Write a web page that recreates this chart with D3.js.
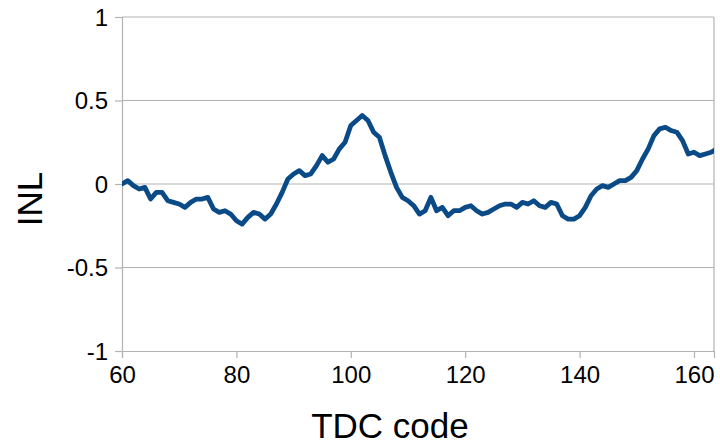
<!DOCTYPE html>
<html>
<head>
<meta charset="utf-8">
<script src="https://cdn.jsdelivr.net/npm/d3@7"></script>
<style>
  html, body { margin: 0; padding: 0; background: #fff; }
  svg { display: block; font-family: "Liberation Sans", Arial, sans-serif; }
</style>
</head>
<body>
<svg id="chart" width="720" height="447"></svg>
<script>
// TDC code vs. integral non-linearity
const codes = d3.range(60, 165);
const inl = [
   0.00,  0.02, -0.01, -0.03, -0.02, -0.09, -0.05, -0.05, -0.10, -0.11,
  -0.12, -0.14, -0.11, -0.09, -0.09, -0.08, -0.15, -0.17, -0.16, -0.18,
  -0.22, -0.24, -0.20, -0.17, -0.18, -0.21, -0.18, -0.12, -0.05,  0.03,
   0.06,  0.08,  0.05,  0.06,  0.11,  0.17,  0.13,  0.15,  0.21,  0.25,
   0.35,  0.38,  0.41,  0.38,  0.31,  0.28,  0.17,  0.07, -0.02, -0.08,
  -0.10, -0.13, -0.18, -0.16, -0.08, -0.16, -0.14, -0.19, -0.16, -0.16,
  -0.14, -0.13, -0.16, -0.18, -0.17, -0.15, -0.13, -0.12, -0.12, -0.14,
  -0.11, -0.12, -0.10, -0.13, -0.14, -0.11, -0.12, -0.19, -0.21, -0.21,
  -0.19, -0.14, -0.07, -0.03, -0.01, -0.02,  0.00,  0.02,  0.02,  0.04,
   0.08,  0.15,  0.21,  0.29,  0.33,  0.34,  0.32,  0.31,  0.26,  0.18,
   0.19,  0.17,  0.18,  0.19,  0.21
];
const xTicks = [60, 80, 100, 120, 140, 160];
const yTicks = [-1, -0.5, 0, 0.5, 1];

const svg = d3.select("#chart");
const m = { left: 122, right: 714, top: 17, bottom: 351 };

const x = d3.scaleLinear().domain([60, 163.5]).range([m.left, m.right]);
const y = d3.scaleLinear().domain([-1, 1]).range([m.bottom, m.top]);

const grey = "#b3b3b3";

// horizontal grid lines
svg.append("g").selectAll("line")
  .data(yTicks.filter(d => d !== -1))
  .join("line")
  .attr("x1", m.left).attr("x2", m.right)
  .attr("y1", d => y(d)).attr("y2", d => y(d))
  .attr("stroke", grey).attr("stroke-width", 1.2);

// right border of the plot area
svg.append("line")
  .attr("x1", m.right).attr("x2", m.right)
  .attr("y1", m.top).attr("y2", m.bottom)
  .attr("stroke", grey).attr("stroke-width", 1.2);

// axes (plain hyphen for negative labels)
const yAxis = d3.axisLeft(y).tickValues(yTicks).tickSize(7).tickPadding(7)
  .tickFormat(d => String(d));
const xAxis = d3.axisBottom(x).tickValues(xTicks).tickSize(7).tickPadding(8)
  .tickFormat(d => String(d));

const gy = svg.append("g").attr("transform", `translate(${m.left},0)`).call(yAxis);
const gx = svg.append("g").attr("transform", `translate(0,${m.bottom})`).call(xAxis);

[gx, gy].forEach(g => {
  g.select(".domain").attr("stroke", grey).attr("stroke-width", 1.2);
  g.selectAll(".tick line").attr("stroke", grey).attr("stroke-width", 1.2);
  g.selectAll(".tick text")
    .attr("fill", "#000")
    .style("font-family", "'Liberation Sans', Arial, sans-serif")
    .style("font-size", "24px");
});
gy.selectAll(".tick text").attr("dy", "0.34em");

// data line
svg.append("clipPath").attr("id", "plotClip")
  .append("rect")
  .attr("x", m.left).attr("y", m.top - 5)
  .attr("width", m.right - m.left).attr("height", m.bottom - m.top + 10);

const line = d3.line()
  .x((d, i) => x(codes[i]))
  .y(d => y(d))
  .curve(d3.curveLinear);

svg.append("path")
  .datum(inl)
  .attr("clip-path", "url(#plotClip)")
  .attr("d", line)
  .attr("fill", "none")
  .attr("stroke", "#0a4a87")
  .attr("stroke-width", 4.8)
  .attr("stroke-linejoin", "round")
  .attr("stroke-linecap", "round");

// axis titles
svg.append("text")
  .attr("x", 390).attr("y", 438)
  .attr("text-anchor", "middle")
  .style("font-size", "35px")
  .text("TDC code");

svg.append("text")
  .attr("transform", "translate(42,199) rotate(-90)")
  .attr("text-anchor", "middle")
  .style("font-size", "35px")
  .text("INL");
</script>
</body>
</html>
